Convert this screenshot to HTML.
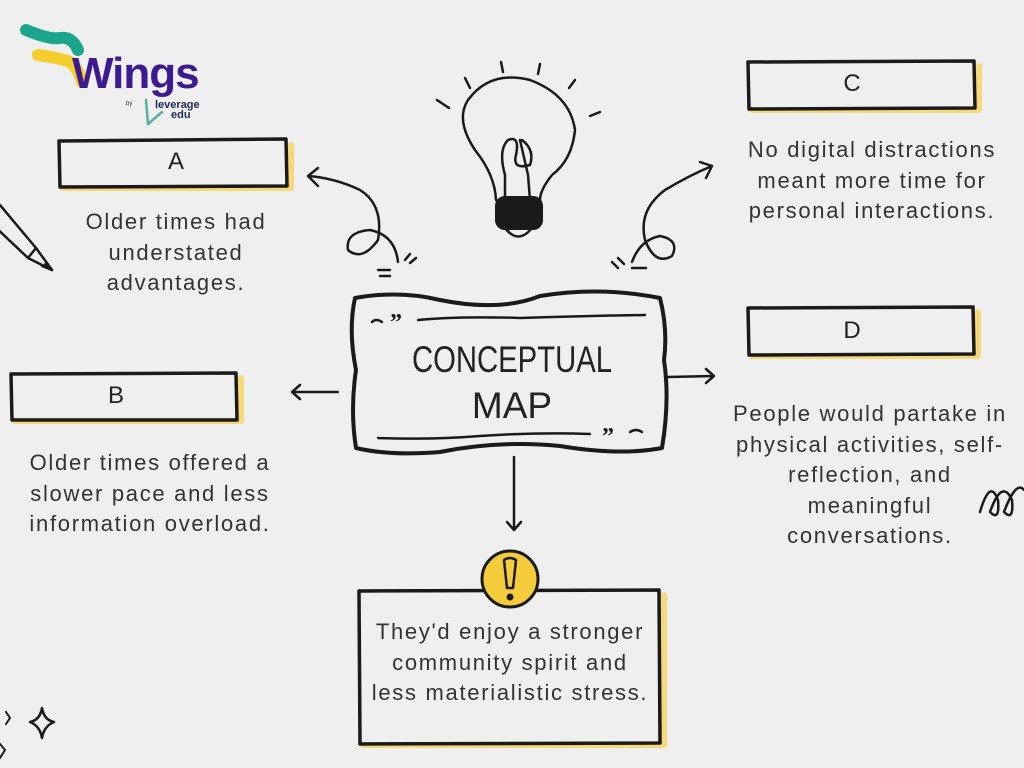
<!DOCTYPE html>
<html><head><meta charset="utf-8"><style>
html,body{margin:0;padding:0;background:#efefef;}
body{width:1024px;height:768px;position:relative;overflow:hidden;font-family:"Liberation Sans",sans-serif;}
.t{position:absolute;text-align:center;color:#333;font-size:22px;line-height:30.5px;letter-spacing:1.7px;}
</style></head><body>
<svg width="1024" height="768" style="position:absolute;left:0;top:0" fill="none" stroke="#1a1a1a" stroke-linecap="round" stroke-linejoin="round">
<path d="M26 30 Q50 40 60 38 Q72 36 78 50" stroke="#1aa58c" stroke-width="12"/>
<path d="M38 55 Q60 58 70 62 Q78 68 82 82" stroke="#f5cd2c" stroke-width="12"/>
<text x="72" y="88" font-family="Liberation Sans" font-weight="bold" font-size="44" fill="#3d1a8f" stroke="none" letter-spacing="-1">Wings</text>
<text x="126" y="105" font-size="6" fill="#333" stroke="none" font-family="Liberation Sans">by</text>
<path d="M146 100 L148 124 L162 112" stroke="#5ab0a0" stroke-width="2.5"/>
<text x="155" y="108" font-size="11" font-weight="bold" fill="#1e2a55" stroke="none" font-family="Liberation Sans">leverage</text>
<text x="171" y="118" font-size="11" font-weight="bold" fill="#1e2a55" stroke="none" font-family="Liberation Sans">edu</text>
<g stroke="#f6d87a" stroke-width="6">
<path d="M63 188 L291 188 L291 145"/><path d="M752 110 L979 110 L979 66"/>
<path d="M752 356 L978 356 L978 312"/><path d="M15 421 L241 421 L241 378"/>
<path d="M363 745 L664 745 L664 595"/>
</g>
<g stroke-width="3.5">
<path d="M59 141 L286 139 L287 186 L60 187 Z"/>
<path d="M748 62 L974 61 L975 108 L749 109 Z"/>
<path d="M748 308 L973 307 L974 354 L749 355 Z"/>
<path d="M11 374 L236 373 L237 420 L12 420 Z"/>
<path d="M359 591 L659 590 L660 743 L360 744 Z"/>
</g>
<path d="M355 298 Q400 290 440 300 Q500 312 540 296 Q600 286 660 298 Q668 330 664 360 Q670 400 662 448 Q620 456 560 446 Q500 440 440 452 Q390 456 356 448 Q350 410 356 370 Q348 330 355 298 Z" stroke-width="4"/>
<path d="M372 322 q4 -4 10 0" stroke-width="2.5"/>
<path d="M418 320 Q460 316 520 318 Q580 316 645 315" stroke-width="2.5"/>
<path d="M378 438 Q430 440 480 436 Q540 432 590 434" stroke-width="2.5"/>
<path d="M630 432 q6 -4 12 0" stroke-width="2.5"/>
<text x="390" y="330" font-size="24" font-weight="bold" fill="#1a1a1a" stroke="none" font-family="Liberation Serif">”</text>
<text x="602" y="444" font-size="24" font-weight="bold" fill="#1a1a1a" stroke="none" font-family="Liberation Serif">”</text>
<text x="512" y="372" text-anchor="middle" font-family="Liberation Sans Narrow, Liberation Sans" font-size="37" fill="#222" stroke="none" textLength="200" lengthAdjust="spacingAndGlyphs">CONCEPTUAL</text>
<text x="512" y="418" text-anchor="middle" font-family="Liberation Sans Narrow, Liberation Sans" font-size="37" fill="#222" stroke="none">MAP</text>
<g stroke-width="2.5">
<path d="M668 377 L714 376 M706 369 L714 376 L706 383"/>
<path d="M338 392 L292 392 M300 385 L292 392 L300 399"/>
<path d="M514 457 L514 530 M507 522 L514 530 L521 522"/>
<path d="M398 262 Q395 235 370 230 Q345 232 348 250 Q362 262 378 240 Q384 205 360 190 Q335 178 308 176 M318 168 L308 176 L318 186"/>
<path d="M632 262 Q640 240 660 236 Q680 240 672 256 Q655 266 645 240 Q638 210 665 190 Q690 175 712 166 M700 162 L712 166 L706 178"/>
<path d="M378 270 h12 M380 276 h10 M405 260 l5 -6 M410 263 l6 -5"/>
<path d="M612 262 l6 6 M618 258 l6 6 M632 268 h14"/>
</g>
<g stroke-width="2.5">
<path d="M496 200 Q495 175 475 150 Q455 120 468 100 Q490 70 530 80 Q570 95 575 130 Q572 160 552 175 Q540 190 540 200"/>
<path d="M505 200 L505 175 Q498 150 508 140 Q520 135 516 155 Q512 170 530 165 Q535 150 522 140 M520 140 L528 175 L530 200"/>
<rect x="497" y="198" width="44" height="30" rx="8" stroke-width="4" fill="#1a1a1a"/>
<path d="M505 228 Q518 245 532 228"/>
<path d="M437 100 l12 8 M465 78 l5 10 M501 62 l2 10 M540 64 l-2 10 M575 80 l-6 8 M600 112 l-10 4"/>
</g>
<g stroke-width="2.5">
<path d="M0 205 L36 248 L52 270 L28 258 L-10 222"/>
<path d="M36 248 L28 258"/><path d="M46 262 L52 270 L42 266" fill="#1a1a1a"/>
</g>
<circle cx="510" cy="579" r="28" fill="#f5cd3c" stroke-width="3"/>
<path d="M504 560 Q510 556 516 560 L513 588 L507 588 Z" stroke-width="2.5"/>
<circle cx="510" cy="597" r="3" fill="#1a1a1a"/>
<path d="M980 512 Q990 478 998 500 Q1000 522 990 512 Q1002 478 1012 500 Q1014 522 1004 512 Q1016 480 1024 490" stroke-width="2.5"/>
<path d="M42 708 Q44 720 54 722 Q44 726 42 738 Q40 726 30 722 Q40 720 42 708 Z" stroke-width="2.5"/>
<path d="M6 712 l4 6 l-4 6 M0 744 l5 6 l-5 8" stroke-width="2"/>
</svg>
<div class="t" style="left:160px;top:147px;width:32px;font-size:24px;letter-spacing:0;font-family:'Liberation Sans Narrow','Liberation Sans',sans-serif;color:#222">A</div>
<div class="t" style="left:836px;top:69px;width:32px;font-size:24px;letter-spacing:0;font-family:'Liberation Sans Narrow','Liberation Sans',sans-serif;color:#222">C</div>
<div class="t" style="left:836px;top:316px;width:32px;font-size:24px;letter-spacing:0;font-family:'Liberation Sans Narrow','Liberation Sans',sans-serif;color:#222">D</div>
<div class="t" style="left:100px;top:381px;width:32px;font-size:24px;letter-spacing:0;font-family:'Liberation Sans Narrow','Liberation Sans',sans-serif;color:#222">B</div>
<div class="t" style="left:46px;top:207px;width:260px">Older times had<br>understated<br>advantages.</div>
<div class="t" style="left:722px;top:135px;width:300px">No digital distractions<br>meant more time for<br>personal interactions.</div>
<div class="t" style="left:0px;top:448px;width:300px">Older times offered a<br>slower pace and less<br>information overload.</div>
<div class="t" style="left:715px;top:399px;width:310px">People would partake in<br>physical activities, self-<br>reflection, and<br>meaningful<br>conversations.</div>
<div class="t" style="left:350px;top:617px;width:320px">They'd enjoy a stronger<br>community spirit and<br>less materialistic stress.</div>
</body></html>
